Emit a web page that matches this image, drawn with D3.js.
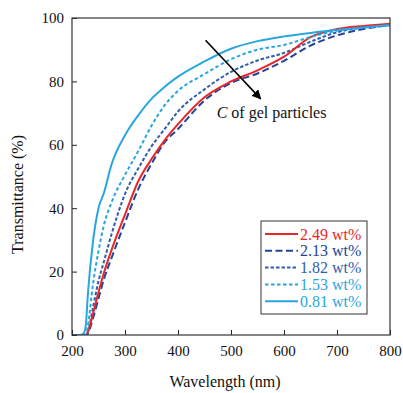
<!DOCTYPE html>
<html>
<head>
<meta charset="utf-8">
<script src="https://cdn.jsdelivr.net/npm/d3@7"></script>
<style>
  body { margin: 0; background: #fff; }
  svg text { font-family: "Liberation Serif", "DejaVu Serif", serif; }
</style>
</head>
<body>
<div id="chart"></div>
<script>
// wavelength samples (nm) shared by all series
var wavelengths = [200, 215, 222, 226, 230, 240, 250, 260, 275, 300, 325, 350, 375, 400, 450, 500, 550, 600, 650, 700, 750, 800];

// transmittance (%)
var t249 = [0, 0, 0, 0, 1, 7, 13.5, 19.5, 27, 38, 48.5, 55.5, 61.5, 66.5, 75, 80, 83.5, 87.8, 94, 96.5, 97.5, 98.2];
var t213 = [0, 0, 0, 0, 0.5, 5.5, 11.5, 17.5, 24.5, 35.5, 46, 54, 60.8, 65, 74, 79.5, 82.5, 86.5, 91.3, 94.5, 96.5, 97.8];
var t182 = [0, 0, 0, 0, 1, 9, 17, 23, 32, 44.5, 52.5, 59.5, 65, 70.5, 77.5, 83, 86.6, 89, 92.5, 95.5, 97, 97.7];
var t153 = [0, 0, 0, 0, 3, 16.5, 26.5, 34.5, 42, 50.5, 58, 66, 72.5, 77, 82.3, 87, 90, 91.5, 94, 96, 97, 97.6];
var t081 = [0, 0, 0.5, 3, 13, 30, 40, 44.7, 54, 63, 69.3, 74.5, 78.3, 81.5, 86.3, 90.3, 92.7, 94.2, 95.3, 96.2, 97, 97.8];

var seriesNames = ["2.49 wt%", "2.13 wt%", "1.82 wt%", "1.53 wt%", "0.81 wt%"];
var xTicks = [200, 300, 400, 500, 600, 700, 800];
var yTicks = [0, 20, 40, 60, 80, 100];

var series = [
  { name: seriesNames[0], values: t249, color: "#e8262a", dash: null },
  { name: seriesNames[1], values: t213, color: "#22449c", dash: "7,3.5" },
  { name: seriesNames[2], values: t182, color: "#2f5eae", dash: "3.5,2" },
  { name: seriesNames[3], values: t153, color: "#29a6df", dash: "3.5,2.5" },
  { name: seriesNames[4], values: t081, color: "#29a6df", dash: null }
];

// draw order as in the figure (dark dashes under the red line)
var drawOrder = [1, 2, 0, 3, 4];

var margin = { top: 18, right: 13, bottom: 58, left: 72 },
    width = 403 - margin.left - margin.right,
    height = 393 - margin.top - margin.bottom;

var x = d3.scaleLinear().domain([200, 800]).range([0, width]);
var y = d3.scaleLinear().domain([0, 100]).range([height, 0]);

var svg = d3.select("#chart")
    .append("svg")
    .attr("width", 403)
    .attr("height", 393)
    .append("g")
    .attr("transform", "translate(" + margin.left + "," + margin.top + ")");

svg.append("defs").append("clipPath").attr("id", "clip")
    .append("rect").attr("width", width).attr("height", height);

// curves
var line = d3.line()
    .x(function(d, i) { return x(wavelengths[i]); })
    .y(function(d) { return y(d); })
    .curve(d3.curveMonotoneX);

drawOrder.forEach(function(k) {
    var s = series[k];
    svg.append("path")
        .attr("clip-path", "url(#clip)")
        .attr("d", line(s.values))
        .attr("fill", "none")
        .attr("stroke", s.color)
        .attr("stroke-width", 2)
        .attr("stroke-dasharray", s.dash);
});

// axes (ticks pointing inward)
var xAxis = svg.append("g")
    .attr("transform", "translate(0," + height + ")")
    .call(d3.axisBottom(x).tickValues(xTicks).tickSize(-5).tickSizeOuter(0).tickPadding(7));
var yAxis = svg.append("g")
    .call(d3.axisLeft(y).tickValues(yTicks).tickSize(-5).tickSizeOuter(0).tickPadding(8));

[xAxis, yAxis].forEach(function(a) {
    a.attr("font-family", null);
    a.select(".domain").remove();
    a.selectAll("line").attr("stroke", "#222");
    a.selectAll("text")
        .style("font-size", "15px")
        .attr("fill", "#111");
});
xAxis.selectAll("text").attr("dy", "0.95em");

// frame
svg.append("rect")
    .attr("width", width)
    .attr("height", height)
    .attr("fill", "none")
    .attr("stroke", "#333")
    .attr("stroke-width", 1.2);

// axis titles
svg.append("text")
    .attr("text-anchor", "middle")
    .attr("x", width / 2 - 6)
    .attr("y", height + 52)
    .style("font-size", "16px")
    .attr("fill", "#111")
    .text("Wavelength (nm)");

svg.append("text")
    .attr("text-anchor", "middle")
    .attr("transform", "translate(" + (-margin.left + 23) + "," + (y(50) + 18) + ") rotate(-90)")
    .style("font-size", "16px")
    .attr("fill", "#111")
    .text("Transmittance (%)");

// arrow annotation
svg.append("defs").append("marker")
    .attr("id", "arrowhead")
    .attr("viewBox", "0 0 10 10")
    .attr("refX", 9).attr("refY", 5)
    .attr("markerWidth", 6).attr("markerHeight", 6)
    .attr("orient", "auto")
    .append("path")
    .attr("d", "M0,0L10,5L0,10Z")
    .attr("fill", "#000");

svg.append("line")
    .attr("x1", x(452)).attr("y1", y(93))
    .attr("x2", x(556)).attr("y2", y(74.5))
    .attr("stroke", "#000")
    .attr("stroke-width", 1.6)
    .attr("marker-end", "url(#arrowhead)");

var ann = svg.append("text")
    .attr("x", x(473))
    .attr("y", y(68.5))
    .style("font-size", "16px")
    .attr("fill", "#111");
ann.append("tspan").style("font-style", "italic").text("C");
ann.append("tspan").text(" of gel particles");

// legend
var legend = svg.append("g")
    .attr("transform", "translate(" + (261 - margin.left) + "," + (221 - margin.top) + ")");

legend.append("rect")
    .attr("width", 106)
    .attr("height", 93)
    .attr("fill", "#fff")
    .attr("stroke", "#333")
    .attr("stroke-width", 1);

series.forEach(function(s, i) {
    var ly = 13 + i * 16.8;
    legend.append("line")
        .attr("x1", 4).attr("x2", 37)
        .attr("y1", ly).attr("y2", ly)
        .attr("stroke", s.color)
        .attr("stroke-width", 2)
        .attr("stroke-dasharray", s.dash);
    legend.append("text")
        .attr("x", 39)
        .attr("y", ly + 5.5)
        .style("font-size", "16px")
        .attr("fill", s.color)
        .text(s.name);
});
</script>
</body>
</html>
